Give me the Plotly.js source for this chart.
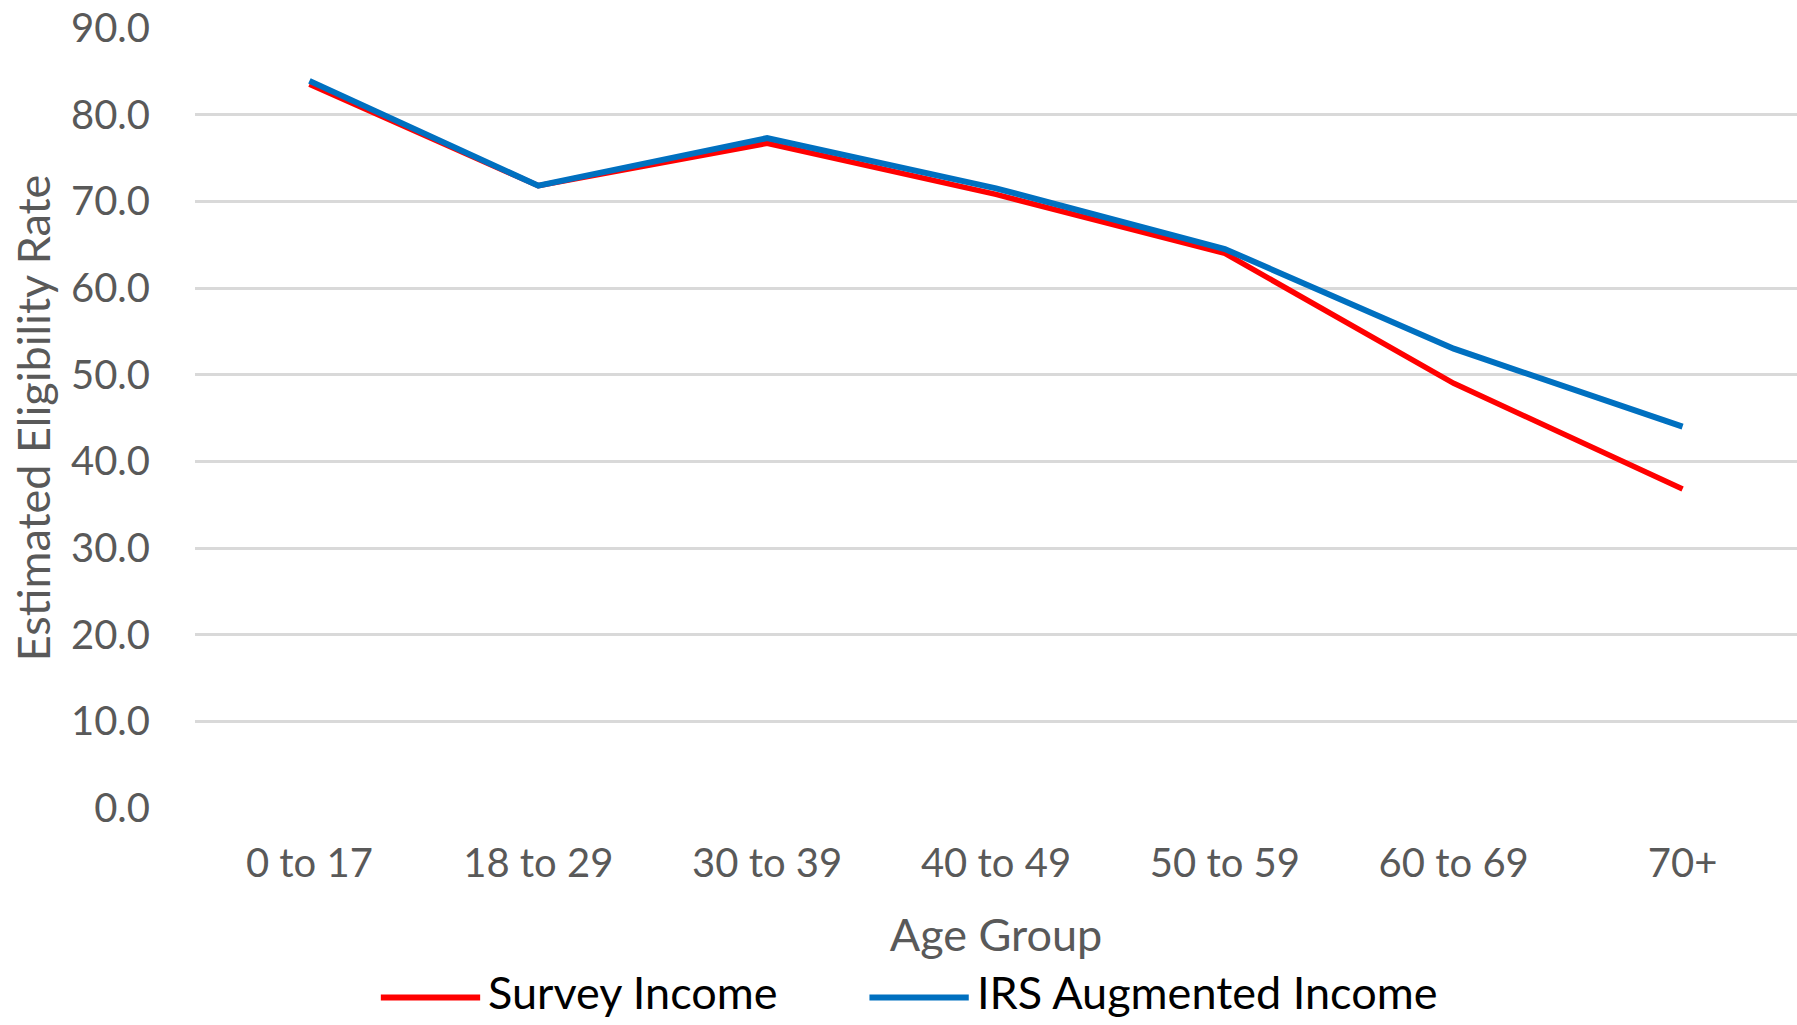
<!DOCTYPE html>
<html>
<head>
<meta charset="utf-8">
<script src="https://cdn.plot.ly/plotly-3.0.1.min.js"></script>
<style>
  html, body { margin: 0; padding: 0; background: #ffffff; }
  #chart { width: 1797px; height: 1025px; }
</style>
</head>
<body>
<div id="chart"></div>
<script>
// Age groups on the category axis
const ageGroups = ['0 to 17', '18 to 29', '30 to 39', '40 to 49', '50 to 59', '60 to 69', '70+'];

// Estimated eligibility rate (%) by age group
const surveyIncome = [83.5, 71.8, 76.7, 70.8, 64.0, 49.0, 36.8];
const irsAugmentedIncome = [83.9, 71.8, 77.3, 71.5, 64.5, 53.0, 44.0];

const seriesNames = ['Survey Income', 'IRS Augmented Income'];
const seriesColors = ['#FF0000', '#0070C0'];

// Y-axis tick values and labels
const yTicks = [0, 10, 20, 30, 40, 50, 60, 70, 80, 90];
const yTickLabels = ['0.0', '10.0', '20.0', '30.0', '40.0', '50.0', '60.0', '70.0', '80.0', '90.0'];

const FONT = 'Lato, "Open Sans", sans-serif';
const GREY = '#595959';

const traces = [
  {
    x: ageGroups, y: surveyIncome, name: seriesNames[0], type: 'scatter', mode: 'lines',
    line: { color: seriesColors[0], width: 5.5 }, showlegend: false
  },
  {
    x: ageGroups, y: irsAugmentedIncome, name: seriesNames[1], type: 'scatter', mode: 'lines',
    line: { color: seriesColors[1], width: 6 }, showlegend: false
  }
];

// Legend drawn below the axis title: a line sample followed by the series name
const legendLineY = -0.243;
const legendTextY = -0.236;
const legendItems = [
  { x0: 0.116, x1: 0.178 },
  { x0: 0.421, x1: 0.483 }
];
const shapes = legendItems.map((it, i) => ({
  type: 'line', xref: 'paper', yref: 'paper',
  x0: it.x0, x1: it.x1, y0: legendLineY, y1: legendLineY,
  line: { color: seriesColors[i], width: 6 }
}));
const annotations = legendItems.map((it, i) => ({
  xref: 'paper', yref: 'paper', x: it.x1, y: legendTextY,
  xanchor: 'left', yanchor: 'middle', showarrow: false, xshift: 6,
  text: seriesNames[i], font: { family: FONT, size: 45, color: '#000000' }
}));

const layout = {
  width: 1797, height: 1025,
  margin: { l: 195, r: 0, t: 28, b: 217 },
  paper_bgcolor: '#ffffff', plot_bgcolor: '#ffffff',
  showlegend: false,
  font: { family: FONT, color: GREY },
  xaxis: {
    type: 'category',
    range: [-0.5, 6.5],
    showgrid: false, zeroline: false, showline: false,
    ticks: '',
    ticklabelstandoff: 28,
    tickfont: { family: FONT, size: 40, color: GREY },
    title: { text: 'Age Group', font: { family: FONT, size: 45, color: GREY }, standoff: 34 },
    fixedrange: true
  },
  yaxis: {
    range: [0, 90],
    tickvals: yTicks, ticktext: yTickLabels,
    showgrid: true, gridcolor: '#D9D9D9', gridwidth: 3,
    zeroline: false, showline: false,
    ticks: '',
    ticklabelstandoff: 44,
    tickfont: { family: FONT, size: 40, color: GREY },
    title: { text: 'Estimated Eligibility Rate', font: { family: FONT, size: 45, color: GREY }, standoff: 6 },
    fixedrange: true
  },
  shapes: shapes,
  annotations: annotations
};

Plotly.newPlot('chart', traces, layout, { displayModeBar: false, staticPlot: true });
</script>
</body>
</html>
